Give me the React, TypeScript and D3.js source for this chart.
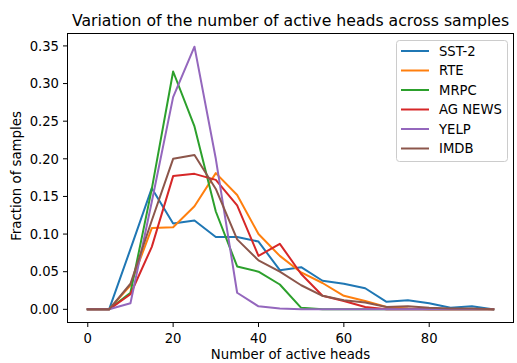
import React from "react";
import * as d3 from "d3";

const heads = [0, 5, 10, 15, 20, 25, 30, 35, 40, 45, 50, 55, 60, 65, 70, 75, 80, 85, 90, 95];
const seriesNames = ["SST-2", "RTE", "MRPC", "AG NEWS", "YELP", "IMDB"];
const sst2 = [0, 0, 0.080, 0.161, 0.114, 0.118, 0.096, 0.096, 0.090, 0.052, 0.056, 0.038, 0.034, 0.028, 0.010, 0.012, 0.008, 0.002, 0.004, 0.000];
const rte = [0, 0, 0.032, 0.108, 0.109, 0.137, 0.181, 0.152, 0.100, 0.071, 0.049, 0.035, 0.018, 0.011, 0.003, 0.001, 0, 0, 0, 0];
const mrpc = [0, 0, 0.022, 0.160, 0.316, 0.243, 0.130, 0.057, 0.050, 0.033, 0.002, 0, 0, 0, 0, 0, 0, 0, 0, 0];
const agnews = [0, 0, 0.020, 0.083, 0.177, 0.180, 0.172, 0.138, 0.071, 0.087, 0.047, 0.018, 0.011, 0.003, 0, 0, 0, 0, 0, 0];
const yelp = [0, 0, 0.008, 0.143, 0.282, 0.349, 0.200, 0.022, 0.004, 0.001, 0, 0, 0, 0, 0, 0, 0, 0, 0, 0];
const imdb = [0, 0, 0.034, 0.118, 0.200, 0.205, 0.160, 0.093, 0.065, 0.050, 0.032, 0.018, 0.012, 0.009, 0.003, 0.004, 0.002, 0.001, 0.001, 0.000];
const seriesValues = [sst2, rte, mrpc, agnews, yelp, imdb];
const colors = ["#1f77b4", "#ff7f0e", "#2ca02c", "#d62728", "#9467bd", "#8c564b"];
const xTicks = [0, 20, 40, 60, 80];
const yTicks = [0, 0.05, 0.1, 0.15, 0.2, 0.25, 0.3, 0.35];

const W = 517;
const H = 363;
const L = 67.5, R = 513.5, T = 33.5, B = 322.5;
const FONT = "'DejaVu Sans', sans-serif";
const tx: React.CSSProperties = { fontFamily: FONT };

export default function App() {
  const x = d3.scaleLinear().domain([-4.75, 99.75]).range([L, R]);
  const y = d3.scaleLinear().domain([-0.0175, 0.3665]).range([B, T]);
  const line = d3
    .line<number>()
    .x((_, i) => x(heads[i]))
    .y((v) => y(v));

  const legX = 396.5, legY = 40.5, legW = 111, legH = 121;
  const rowY = (i: number) => 51 + i * 19.5;

  return (
    <svg
      width={W}
      height={H}
      style={{ position: "absolute", left: 0, top: 0, background: "#fff", fontFamily: FONT }}
    >
      <rect x={0} y={0} width={W} height={H} fill="#fff" />
      <text x={(L + R) / 2} y={26} textAnchor="middle" fontSize={15.7} fill="#000" style={tx}>
        Variation of the number of active heads across samples
      </text>
      <g>
        {seriesValues.map((vals, k) => (
          <path
            key={seriesNames[k]}
            d={line(vals) || ""}
            fill="none"
            stroke={colors[k]}
            strokeWidth={2}
            strokeLinejoin="round"
            strokeLinecap="square"
          />
        ))}
      </g>
      <rect x={L} y={T} width={R - L} height={B - T} fill="none" stroke="#000" strokeWidth={1} />
      {xTicks.map((t) => (
        <g key={"x" + t}>
          <line x1={x(t)} x2={x(t)} y1={B} y2={B + 4.5} stroke="#000" strokeWidth={1} />
          <text x={x(t)} y={342.5} textAnchor="middle" fontSize={13.2} fill="#000" style={tx}>
            {t}
          </text>
        </g>
      ))}
      {yTicks.map((t) => (
        <g key={"y" + t}>
          <line x1={L - 4.5} x2={L} y1={y(t)} y2={y(t)} stroke="#000" strokeWidth={1} />
          <text x={59} y={y(t) + 4.8} textAnchor="end" fontSize={13.2} fill="#000" style={tx}>
            {t.toFixed(2)}
          </text>
        </g>
      ))}
      <text x={(L + R) / 2} y={359} textAnchor="middle" fontSize={13.3} fill="#000" style={tx}>
        Number of active heads
      </text>
      <text
        transform={`translate(20.5,${(T + B) / 2 - 2}) rotate(-90)`}
        textAnchor="middle"
        fontSize={13.3}
        fill="#000"
        style={tx}
      >
        Fraction of samples
      </text>
      <g>
        <rect
          x={legX}
          y={legY}
          width={legW}
          height={legH}
          rx={3}
          fill="#fff"
          fillOpacity={0.8}
          stroke="#cccccc"
          strokeWidth={1}
        />
        {seriesNames.map((n, i) => (
          <g key={n}>
            <line x1={401} x2={429} y1={rowY(i)} y2={rowY(i)} stroke={colors[i]} strokeWidth={2} />
            <text x={439} y={rowY(i) + 4.8} fontSize={13.2} fill="#000" style={tx}>
              {n}
            </text>
          </g>
        ))}
      </g>
    </svg>
  );
}
